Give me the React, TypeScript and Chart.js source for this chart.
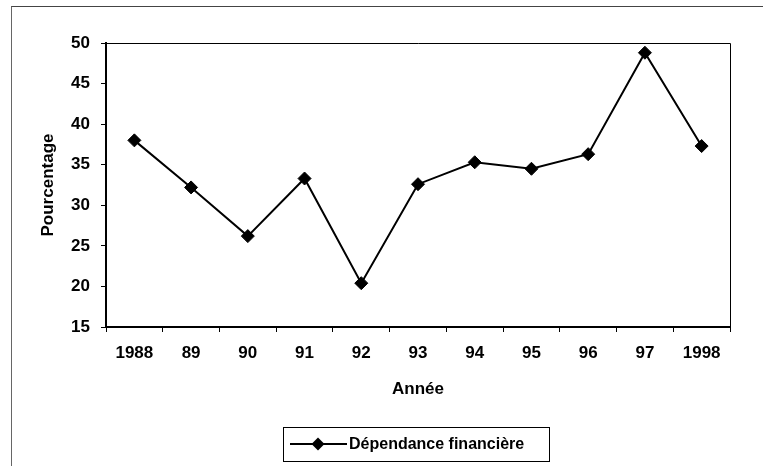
import React, { useEffect, useRef } from "react";
import { Chart, registerables } from "chart.js";

Chart.register(...registerables);

const categories = ["1988", "89", "90", "91", "92", "93", "94", "95", "96", "97", "1998"];
const dependanceFinanciere = [38.0, 32.2, 26.2, 33.3, 20.4, 32.6, 35.3, 34.5, 36.3, 48.8, 37.3];
const seriesLabel = "Dépendance financière";
const yMin = 15;
const yMax = 50;
const yStep = 5;
const xTitle = "Année";
const yTitle = "Pourcentage";

const FONT = "'Liberation Sans', Arial, sans-serif";
const FS = 17;
const FW = "bold" as const;

const plotFramePlugin = {
  id: "plotFrame",
  beforeDatasetsDraw(chart: any) {
    const { ctx, chartArea } = chart;
    ctx.save();
    ctx.strokeStyle = "#000";
    ctx.lineWidth = 1;
    ctx.beginPath();
    ctx.moveTo(chartArea.left, chartArea.top + 0.5);
    ctx.lineTo(chartArea.right + 0.5, chartArea.top + 0.5);
    ctx.lineTo(chartArea.right + 0.5, chartArea.bottom);
    ctx.stroke();
    ctx.restore();
  },
};

const boxLegendPlugin = {
  id: "boxLegend",
  afterDraw(chart: any) {
    const { ctx } = chart;
    const ds = chart.data.datasets[0];
    const bx = 283, by = 427, bw = 266, bh = 34;
    const cy = by + bh / 2;
    ctx.save();
    ctx.strokeStyle = "#000";
    ctx.lineWidth = 1;
    ctx.strokeRect(bx + 0.5, by + 0.5, bw, bh);
    ctx.lineWidth = 2;
    ctx.beginPath();
    ctx.moveTo(bx + 7, cy);
    ctx.lineTo(bx + 64, cy);
    ctx.stroke();
    ctx.fillStyle = "#000";
    const cx = bx + 35;
    const r = 6.5;
    ctx.beginPath();
    ctx.moveTo(cx, cy - r);
    ctx.lineTo(cx + r, cy);
    ctx.lineTo(cx, cy + r);
    ctx.lineTo(cx - r, cy);
    ctx.closePath();
    ctx.fill();
    ctx.font = `${FW} 16px ${FONT}`;
    ctx.textAlign = "left";
    ctx.textBaseline = "middle";
    ctx.fillText(ds.label, bx + 66, cy + 1);
    ctx.restore();
  },
};

export default function App() {
  const canvasRef = useRef<HTMLCanvasElement | null>(null);

  useEffect(() => {
    if (!canvasRef.current) return;
    const chart = new Chart(canvasRef.current, {
      type: "line",
      data: {
        labels: categories,
        datasets: [
          {
            label: seriesLabel,
            data: dependanceFinanciere,
            borderColor: "#000",
            backgroundColor: "#000",
            borderWidth: 2,
            pointStyle: "rectRot",
            pointRadius: 6.5,
            pointBackgroundColor: "#000",
            pointBorderColor: "#000",
            pointBorderWidth: 1,
            tension: 0,
          },
        ],
      },
      options: {
        responsive: false,
        animation: false,
        devicePixelRatio: 1,
        layout: { padding: { left: 34, top: 43, right: 33, bottom: 64 } },
        plugins: {
          legend: { display: false },
          tooltip: { enabled: false },
        },
        scales: {
          x: {
            type: "category",
            offset: true,
            grid: {
              offset: true,
              drawOnChartArea: false,
              drawTicks: true,
              tickLength: 5,
              tickColor: "#000",
              tickWidth: 1,
            },
            border: { display: true, color: "#000", width: 2 },
            ticks: {
              color: "#000",
              padding: 11,
              maxRotation: 0,
              autoSkip: false,
              font: { family: FONT, size: FS, weight: FW },
            },
            title: {
              display: true,
              text: xTitle,
              color: "#000",
              font: { family: FONT, size: FS, weight: FW },
              padding: { top: 4, bottom: 2 },
            },
            afterFit(scale: any) {
              scale.height = 75;
            },
          },
          y: {
            min: yMin,
            max: yMax,
            grid: {
              drawOnChartArea: false,
              drawTicks: true,
              tickLength: 5,
              tickColor: "#000",
              tickWidth: 1,
            },
            border: { display: true, color: "#000", width: 2 },
            ticks: {
              stepSize: yStep,
              color: "#000",
              padding: 11,
              font: { family: FONT, size: FS, weight: FW },
            },
            title: {
              display: true,
              text: yTitle,
              color: "#000",
              font: { family: FONT, size: FS, weight: FW },
              padding: { top: 4, bottom: 4 },
            },
            afterFit(scale: any) {
              scale.width = 72;
            },
          },
        },
      },
      plugins: [plotFramePlugin, boxLegendPlugin],
    } as any);
    return () => chart.destroy();
  }, []);

  return (
    <div style={{ position: "absolute", left: 0, top: 0, width: 763, height: 466, background: "#fff", overflow: "hidden" }}>
      <div
        style={{
          position: "absolute",
          left: 11,
          top: 6,
          right: 0,
          bottom: 0,
          borderTop: "1px solid #444",
          borderLeft: "1px solid #666",
        }}
      />
      <canvas ref={canvasRef} width={763} height={466} style={{ position: "absolute", left: 0, top: 0, width: 763, height: 466 }} />
    </div>
  );
}
